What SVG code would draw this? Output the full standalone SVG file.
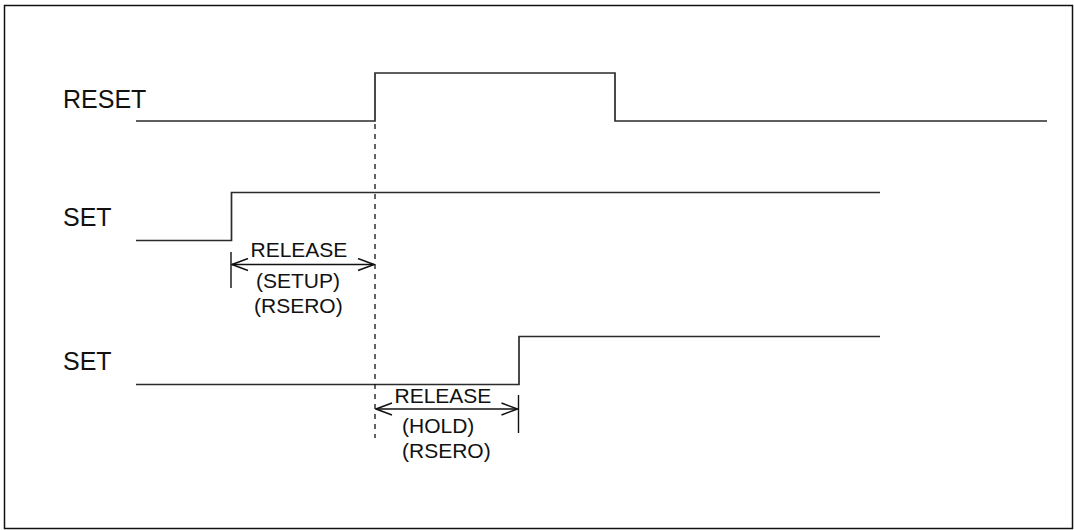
<svg xmlns="http://www.w3.org/2000/svg" width="1074" height="530" viewBox="0 0 1074 530">
<defs>
<style>
.sig{fill:none;stroke:#2b2b2b;stroke-width:1.7}
.lbl{font-family:"Liberation Sans",Arial,sans-serif;font-size:25px;fill:#111}
.t{font-family:"Liberation Sans",Arial,sans-serif;font-size:21px;fill:#111}
.dash{stroke:#111;stroke-width:1.3;stroke-dasharray:5,5}
</style>
<marker id="ah" viewBox="0 0 18 14" refX="17" refY="7" markerWidth="18" markerHeight="14" markerUnits="userSpaceOnUse" orient="auto-start-reverse">
<path d="M1,1 L17,7 L1,13" fill="none" stroke="#111" stroke-width="1.5"/>
</marker>
</defs>
<rect x="4.5" y="5.5" width="1068" height="523" fill="#fff" stroke="#111" stroke-width="1.5"/>
<g id="reset">
<text class="lbl" x="63" y="108">RESET</text>
<polyline class="sig" points="136,121 375,121 375,73 615,73 615,121 1047,121"/>
</g>
<g id="set1">
<text class="lbl" x="63" y="226">SET</text>
<polyline class="sig" points="136,240.5 231.5,240.5 231.5,192.5 880,192.5"/>
</g>
<g id="set2">
<text class="lbl" x="63" y="370">SET</text>
<polyline class="sig" points="136,384.5 519,384.5 519,336.5 880,336.5"/>
</g>
<g id="connectors">
<line class="dash" x1="375" y1="124" x2="375" y2="438"/>
<line x1="231" y1="252" x2="231" y2="288" stroke="#111" stroke-width="1.4"/>
<line x1="232" y1="264.5" x2="374" y2="264.5" stroke="#111" stroke-width="1.5" marker-start="url(#ah)" marker-end="url(#ah)"/>
<line x1="518.5" y1="395" x2="518.5" y2="433" stroke="#111" stroke-width="1.4"/>
<line x1="376" y1="409" x2="517.5" y2="409" stroke="#111" stroke-width="1.5" marker-start="url(#ah)" marker-end="url(#ah)"/>
</g>
<g id="label1">
<text class="t" x="250.5" y="257">RELEASE</text>
<text class="t" x="256" y="288">(SETUP)</text>
<text class="t" x="254" y="313">(RSERO)</text>
</g>
<g id="label2">
<text class="t" x="394.5" y="403">RELEASE</text>
<text class="t" x="402" y="433">(HOLD)</text>
<text class="t" x="402" y="458">(RSERO)</text>
</g>
</svg>
